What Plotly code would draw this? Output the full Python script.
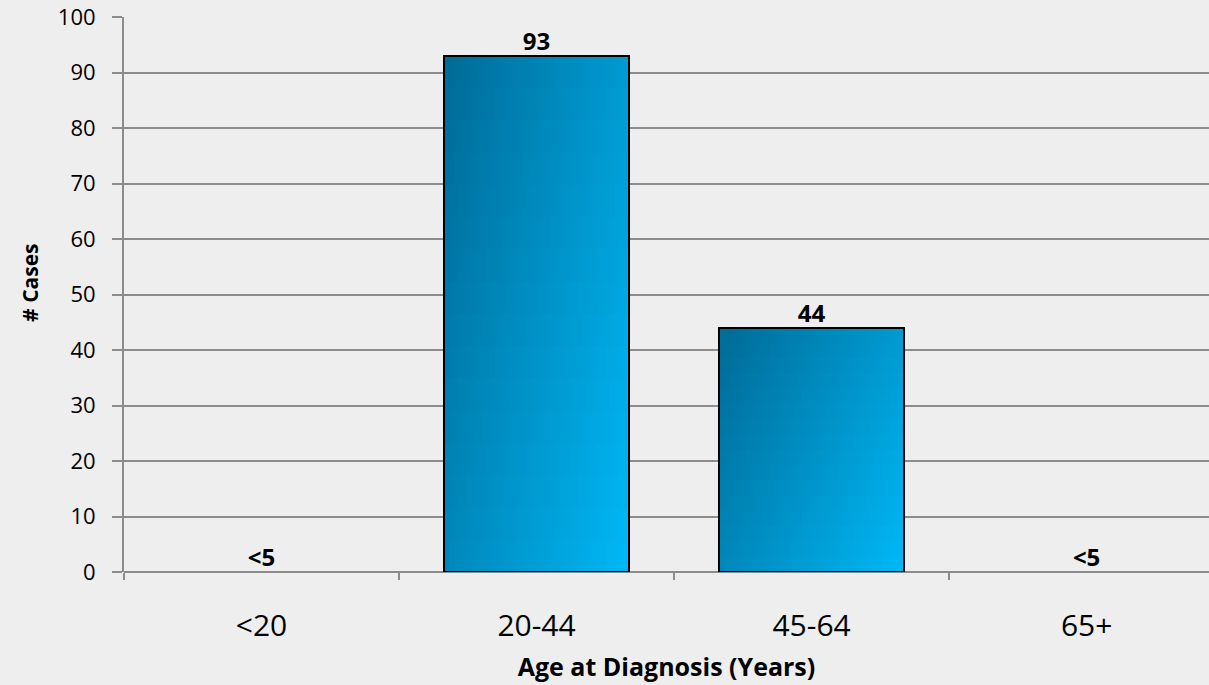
import plotly.graph_objects as go

categories = ["<20", "20-44", "45-64", "65+"]
cases = [0, 93, 44, 0]
bar_labels = ["<5", "93", "44", "<5"]
y_ticks = [0, 10, 20, 30, 40, 50, 60, 70, 80, 90, 100]

FONT = "'Open Sans', Lato, sans-serif"
BAR_W = 0.67
NX, NY = 40, 16
dark = (0, 106, 150)
light = (0, 184, 246)


def mix(t):
    t = max(0.0, min(1.0, t))
    return "rgb(%d,%d,%d)" % tuple(round(a + (b - a) * t) for a, b in zip(dark, light))


bar_vals = [c if c > 0 else None for c in cases]

fig = go.Figure()

# gradient fill: bars split into slices (horizontal) and segments (vertical)
for i in range(NX):
    u = (i + 0.5) / NX
    for j in range(NY):
        v = 1 - (j + 0.5) / NY  # 0 at top, 1 at bottom
        seg = [c / NY * 1.02 if c else None for c in bar_vals]
        base = [c * j / NY if c else None for c in bar_vals]
        if j == NY - 1:
            seg = [c / NY if c else None for c in bar_vals]
        fig.add_trace(go.Bar(
            x=categories, y=seg, base=base,
            width=BAR_W / NX * 1.15,
            offset=-BAR_W / 2 + i * BAR_W / NX,
            marker=dict(color=mix(0.62 * u + 0.38 * v), line=dict(width=0)),
            hoverinfo="skip", showlegend=False,
        ))

# outline
fig.add_trace(go.Bar(
    x=categories, y=bar_vals, width=BAR_W,
    marker=dict(color="rgba(0,0,0,0)", line=dict(color="black", width=2)),
    showlegend=False, hoverinfo="skip",
))

# data labels
fig.add_trace(go.Scatter(
    x=categories, y=cases, mode="text", text=bar_labels,
    textposition="top center",
    textfont=dict(family=FONT, size=24, color="black", weight="bold"),
    cliponaxis=False, showlegend=False, hoverinfo="skip",
))

fig.update_layout(
    width=1209, height=685,
    barmode="overlay", bargap=0,
    paper_bgcolor="#eeeeee", plot_bgcolor="rgba(0,0,0,0)",
    margin=dict(l=124, r=0, t=17, b=113),
    font=dict(family=FONT, color="black"),
    xaxis=dict(
        range=[-0.5, 3.445],
        tickson="boundaries", ticks="outside", ticklen=7, tickwidth=2,
        tickcolor="#8c8c8c", showgrid=False, showline=False, zeroline=False,
        tickfont=dict(size=30, family=FONT), ticklabelstandoff=33,
        title=dict(text="<b>Age at Diagnosis (Years)</b>",
                   font=dict(size=25, family=FONT), standoff=14),
    ),
    yaxis=dict(
        range=[0, 100], tickvals=y_ticks,
        ticks="outside", ticklen=10, tickwidth=2, tickcolor="#8c8c8c",
        showgrid=True, gridcolor="#8c8c8c", gridwidth=2,
        showline=True, linecolor="#8c8c8c", linewidth=2,
        zeroline=True, zerolinecolor="#8c8c8c", zerolinewidth=2,
        tickfont=dict(size=22, family=FONT), ticklabelstandoff=12,
    ),
    annotations=[dict(
        text="<b># Cases</b>", textangle=-90, showarrow=False,
        xref="paper", yref="paper", x=-0.0866, y=0.521,
        xanchor="center", yanchor="middle",
        font=dict(size=21, family=FONT, color="black"),
    )],
)

fig.write_html(
    "out.html",
    config={"displayModeBar": False},
    post_script="document.body.style.margin='0';document.body.style.overflow='hidden';",
)
